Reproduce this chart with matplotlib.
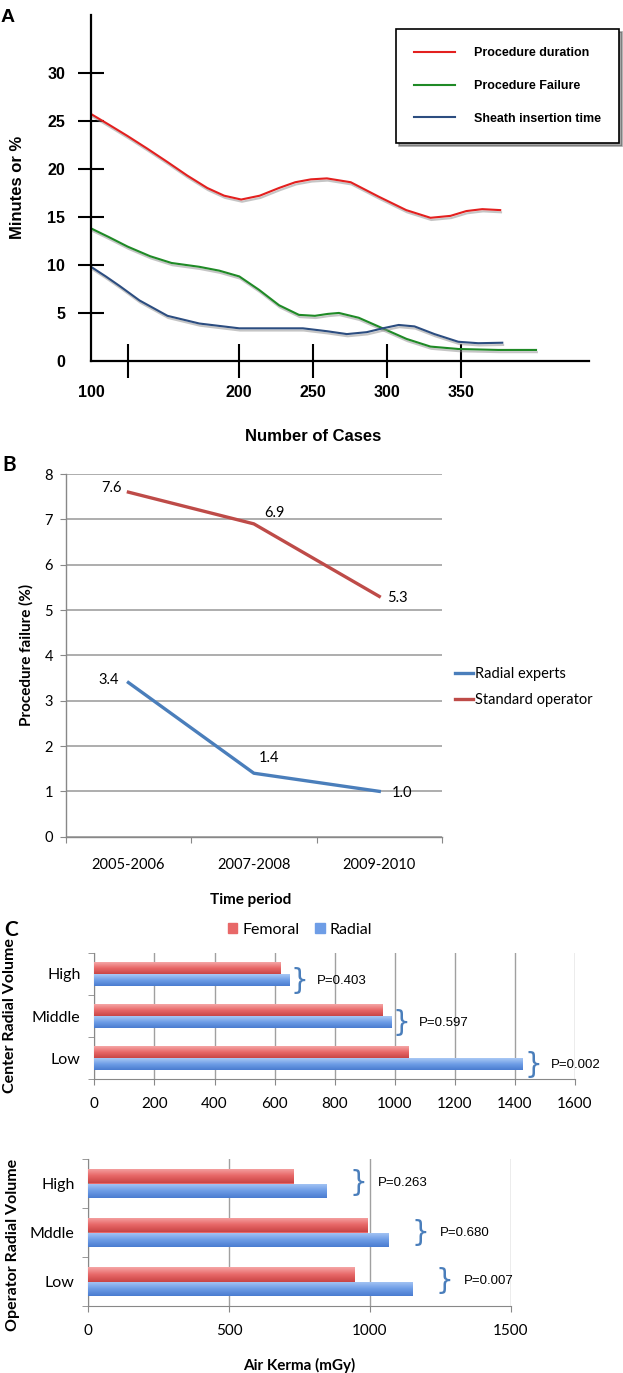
import numpy as np
import matplotlib
matplotlib.use("Agg")
import matplotlib.pyplot as plt
import matplotlib.patheffects as pe
from matplotlib.lines import Line2D
from matplotlib.patches import Patch
from matplotlib.colors import LinearSegmentedColormap

# ---- panel A: learning curves
cases_dur = [100, 112, 124.8, 138, 151.7, 165, 178.6, 190, 201.5, 214, 227, 238,
             248.6, 259.4, 275.5, 294.4, 313, 329.4, 342.9, 353.6, 364.4, 376.5]
duration = [25.7, 24.6, 23.4, 22.1, 20.7, 19.3, 18.0, 17.2, 16.8, 17.2, 18.0, 18.6,
            18.9, 19.0, 18.6, 17.1, 15.7, 14.9, 15.1, 15.6, 15.8, 15.7]
cases_fail = [100, 112, 124.8, 140, 154.4, 173.2, 186.7, 200.2, 213.6, 227.1, 240.5,
              251.3, 260, 267.5, 280.9, 297.1, 313.2, 329.4, 348.2, 375.2, 400.7]
failure = [13.8, 12.9, 11.9, 10.9, 10.2, 9.8, 9.4, 8.8, 7.4, 5.8, 4.8,
           4.7, 4.9, 5.0, 4.5, 3.4, 2.3, 1.5, 1.25, 1.15, 1.15]
cases_sheath = [100, 110, 119.4, 132.8, 151.7, 173.2, 200.2, 227.1, 243.2, 259.4,
                272.9, 286.3, 297.1, 307.9, 318.6, 332.1, 348.2, 361.7, 377.9]
sheath = [9.8, 8.8, 7.8, 6.3, 4.7, 3.9, 3.4, 3.4, 3.4, 3.1,
          2.8, 3.0, 3.4, 3.75, 3.6, 2.8, 2.0, 1.85, 1.9]
a_xticks = [100, 125, 200, 250, 300, 350]
a_xlabels = ["100", "", "200", "250", "300", "350"]
a_yticks = [0, 5, 10, 15, 20, 25, 30]

# ---- panel B: procedure failure by period
periods = ["2005-2006", "2007-2008", "2009-2010"]
radial_experts = [3.4, 1.4, 1.0]
standard_operator = [7.6, 6.9, 5.3]

# ---- panel C: air kerma
volume_cats = ["High", "Middle", "Low"]
center_femoral = [621, 960, 1046]
center_radial = [652, 989, 1428]
center_p = ["P=0.403", "P=0.597", "P=0.002"]

operator_cats = ["High", "Mddle", "Low"]
operator_femoral = [729, 992, 947]
operator_radial = [848, 1068, 1153]
operator_p = ["P=0.263", "P=0.680", "P=0.007"]

W, H = 623, 1373
fig = plt.figure(figsize=(W / 100, H / 100), dpi=100)


def box(l, t, r, b):
    return [l / W, 1 - b / H, (r - l) / W, (b - t) / H]


def ftext(x, y, s, **kw):
    fig.text(x / W, 1 - y / H, s, **kw)


ARIAL = "Liberation Sans"
CALI = "Lato"

# ================= A =================
axA = fig.add_axes(box(91, 15, 589, 361))
shadow = [pe.SimpleLineShadow(offset=(0.6, -1.6), shadow_color="0.55", alpha=0.5), pe.Normal()]
axA.plot(cases_dur, duration, color="#e3201f", lw=1.5, path_effects=shadow)
axA.plot(cases_fail, failure, color="#1f8a26", lw=1.5, path_effects=shadow)
axA.plot(cases_sheath, sheath, color="#2c4d80", lw=1.5, path_effects=shadow)
axA.set_xlim(100, 436.5)
axA.set_ylim(0, 36)
for s in ["top", "right"]:
    axA.spines[s].set_visible(False)
for s in ["left", "bottom"]:
    axA.spines[s].set_linewidth(1.6)
    axA.spines[s].set_color("black")
axA.set_yticks(a_yticks)
axA.set_yticklabels([str(v) for v in a_yticks], fontfamily=ARIAL, fontweight="bold", fontsize=11.5)
axA.set_xticks(a_xticks)
axA.set_xticklabels(a_xlabels, fontfamily=ARIAL, fontweight="bold", fontsize=11.5)
axA.tick_params(axis="y", direction="inout", length=18.4, width=1.5, pad=9.5)
axA.tick_params(axis="x", direction="inout", length=24.5, width=1.5, pad=5)
axA.yaxis.get_major_ticks()[0].tick1line.set_visible(False)
axA.xaxis.get_major_ticks()[0].tick1line.set_visible(False)
legA = axA.legend(
    [Line2D([], [], color="#e3201f", lw=1.5), Line2D([], [], color="#1f8a26", lw=1.5),
     Line2D([], [], color="#2c4d80", lw=1.5)],
    ["Procedure duration", "Procedure Failure", "Sheath insertion time"],
    loc="upper left", bbox_to_anchor=(396 / W, 1 - 29.3 / H), bbox_transform=fig.transFigure,
    borderaxespad=0, fancybox=False, shadow=True, edgecolor="black",
    prop={"family": ARIAL, "weight": "bold", "size": 9},
    handlelength=3.3, handletextpad=1.5, borderpad=1.45, labelspacing=1.65)
legA.get_frame().set_linewidth(1.2)
ftext(18, 187, "Minutes or %", rotation=90, ha="center", va="center",
      fontfamily=ARIAL, fontweight="bold", fontsize=12)
ftext(313, 436, "Number of Cases", ha="center", va="center",
      fontfamily=ARIAL, fontweight="bold", fontsize=12)
ftext(8, 18, "A", ha="center", va="center", fontfamily=ARIAL, fontweight="bold", fontsize=14)

# ================= B =================
axB = fig.add_axes(box(65.7, 474, 442, 836.7))
xb = np.arange(len(periods)) + 0.5
axB.plot(xb, radial_experts, color="#4a7ebb", lw=2.4)
axB.plot(xb, standard_operator, color="#be4b48", lw=2.4)
axB.set_xlim(0, 3)
axB.set_ylim(0, 8)
axB.set_axisbelow(True)
axB.yaxis.grid(True, color="#a0a0a0", lw=1.2)
for s in ["top", "right"]:
    axB.spines[s].set_visible(False)
for s in ["left", "bottom"]:
    axB.spines[s].set_color("#888888")
    axB.spines[s].set_linewidth(1.0)
axB.set_yticks(range(9))
axB.set_yticklabels([str(v) for v in range(9)], fontfamily=CALI, fontsize=10.5)
axB.tick_params(axis="y", length=4, color="#888888", pad=5)
axB.set_xticks([0, 1, 2, 3])
axB.set_xticklabels([])
axB.tick_params(axis="x", which="major", length=4.5, color="#888888")
axB.set_xticks(xb, minor=True)
axB.set_xticklabels(periods, minor=True, fontfamily=CALI, fontsize=10.5)
axB.tick_params(axis="x", which="minor", length=0, pad=15)

label_offsets_r = [(-12, 3), (15, 8), (13, -1)]
label_offsets_b = [(-14, 2), (11, 11), (16, -1)]
for i in range(len(periods)):
    axB.annotate(f"{standard_operator[i]:.1f}", (xb[i], standard_operator[i]),
                 xytext=label_offsets_r[i], textcoords="offset points",
                 ha="center", va="center", fontfamily=CALI, fontsize=10.5)
    axB.annotate(f"{radial_experts[i]:.1f}", (xb[i], radial_experts[i]),
                 xytext=label_offsets_b[i], textcoords="offset points",
                 ha="center", va="center", fontfamily=CALI, fontsize=10.5)
axB.legend([Line2D([], [], color="#4a7ebb", lw=2.4), Line2D([], [], color="#be4b48", lw=2.4)],
           ["Radial experts", "Standard operator"],
           loc="upper left", bbox_to_anchor=(455 / W, 1 - 667 / H), bbox_transform=fig.transFigure,
           frameon=False, borderaxespad=0, borderpad=0, handlelength=1.25, handletextpad=0.1,
           labelspacing=0.8, prop={"family": CALI, "size": 10.5})
ftext(26, 655, "Procedure failure (%)", rotation=90, ha="center", va="center",
      fontfamily=CALI, fontweight="bold", fontsize=11)
ftext(251, 900, "Time period", ha="center", va="center",
      fontfamily=CALI, fontweight="bold", fontsize=11)
ftext(9, 465, "B", ha="center", va="center", fontfamily=CALI, fontweight="bold", fontsize=15)

# ================= C =================
red_cmap = LinearSegmentedColormap.from_list("r", ["#f5a6a6", "#e86868", "#c94545"])
blue_cmap = LinearSegmentedColormap.from_list("b", ["#aac9f5", "#6e9de6", "#4a7cd0"])


def glossy(ax, bars, cmap):
    grad = np.linspace(0, 1, 64).reshape(-1, 1)
    for b in bars:
        x0, y0, w, h = b.get_x(), b.get_y(), b.get_width(), b.get_height()
        im = ax.imshow(grad, extent=(x0, x0 + w, y0, y0 + h), origin="upper",
                       aspect="auto", cmap=cmap, zorder=3)
        im.set_clip_path(b)


def bar_panel(ax, cats, fem, rad, pvals, xmax, xstep, bh, brace_dx, text_dx, dy):
    y = np.arange(len(cats))[::-1]
    bf = ax.barh(y + bh / 2, fem, height=bh, color="#e86868", zorder=2)
    br = ax.barh(y - bh / 2, rad, height=bh, color="#6e9de6", zorder=2)
    glossy(ax, bf, red_cmap)
    glossy(ax, br, blue_cmap)
    ax.set_xlim(0, xmax)
    ax.set_ylim(-0.5, len(cats) - 0.5)
    ax.set_axisbelow(True)
    ax.xaxis.grid(True, color="#a0a0a0", lw=1.0)
    for s in ["top", "right"]:
        ax.spines[s].set_visible(False)
    for s in ["left", "bottom"]:
        ax.spines[s].set_color("#888888")
    ax.set_xticks(np.arange(0, xmax + 1, xstep))
    ax.set_xticklabels([str(v) for v in np.arange(0, xmax + 1, xstep)],
                       fontfamily=CALI, fontsize=11)
    ax.tick_params(axis="x", length=4, color="#888888", pad=9)
    ax.set_yticks(y)
    ax.set_yticklabels(cats, fontfamily=CALI, fontsize=11.5)
    ax.tick_params(axis="y", which="major", length=0, pad=10)
    ax.set_yticks(np.arange(-0.5, len(cats)), minor=True)
    ax.tick_params(axis="y", which="minor", length=4, color="#888888")
    for i in range(len(cats)):
        xe = max(fem[i], rad[i])
        ax.annotate("}", (xe, y[i]), xytext=(brace_dx, dy), textcoords="offset points",
                    ha="left", va="center", fontfamily="DejaVu Sans",
                    fontsize=20, color="#4a7ebb")
        ax.annotate(pvals[i], (xe, y[i]), xytext=(text_dx, dy), textcoords="offset points",
                    ha="left", va="center", fontfamily=ARIAL, fontsize=9.5)


axC1 = fig.add_axes(box(94.4, 953, 575, 1079))
bar_panel(axC1, volume_cats, center_femoral, center_radial, center_p,
          1600, 200, 0.28, 0.5, 19.5, -5)
axC1.legend([Patch(color="#e86868"), Patch(color="#6e9de6")], ["Femoral", "Radial"],
            loc="center", bbox_to_anchor=(300 / W, 1 - 930 / H), bbox_transform=fig.transFigure,
            ncol=2, frameon=False, handlelength=0.6, handleheight=0.6, handletextpad=0.3,
            columnspacing=1.0, borderaxespad=0, prop={"family": CALI, "size": 11.5})
ftext(10, 1016, "Center Radial Volume", rotation=90, ha="center", va="center",
      fontfamily=CALI, fontweight="bold", fontsize=11.5)
ftext(11, 930, "C", ha="center", va="center", fontfamily=CALI, fontweight="bold", fontsize=15)

axC2 = fig.add_axes(box(88.4, 1159, 510.8, 1306))
bar_panel(axC2, operator_cats, operator_femoral, operator_radial, operator_p,
          1500, 500, 0.3, 16, 36.5, 0)
ftext(13, 1245, "Operator Radial Volume", rotation=90, ha="center", va="center",
      fontfamily=CALI, fontweight="bold", fontsize=11.5)
ftext(299, 1365, "Air Kerma (mGy)", ha="center", va="center",
      fontfamily=CALI, fontweight="bold", fontsize=11)

fig.savefig("out.png", dpi=100)
